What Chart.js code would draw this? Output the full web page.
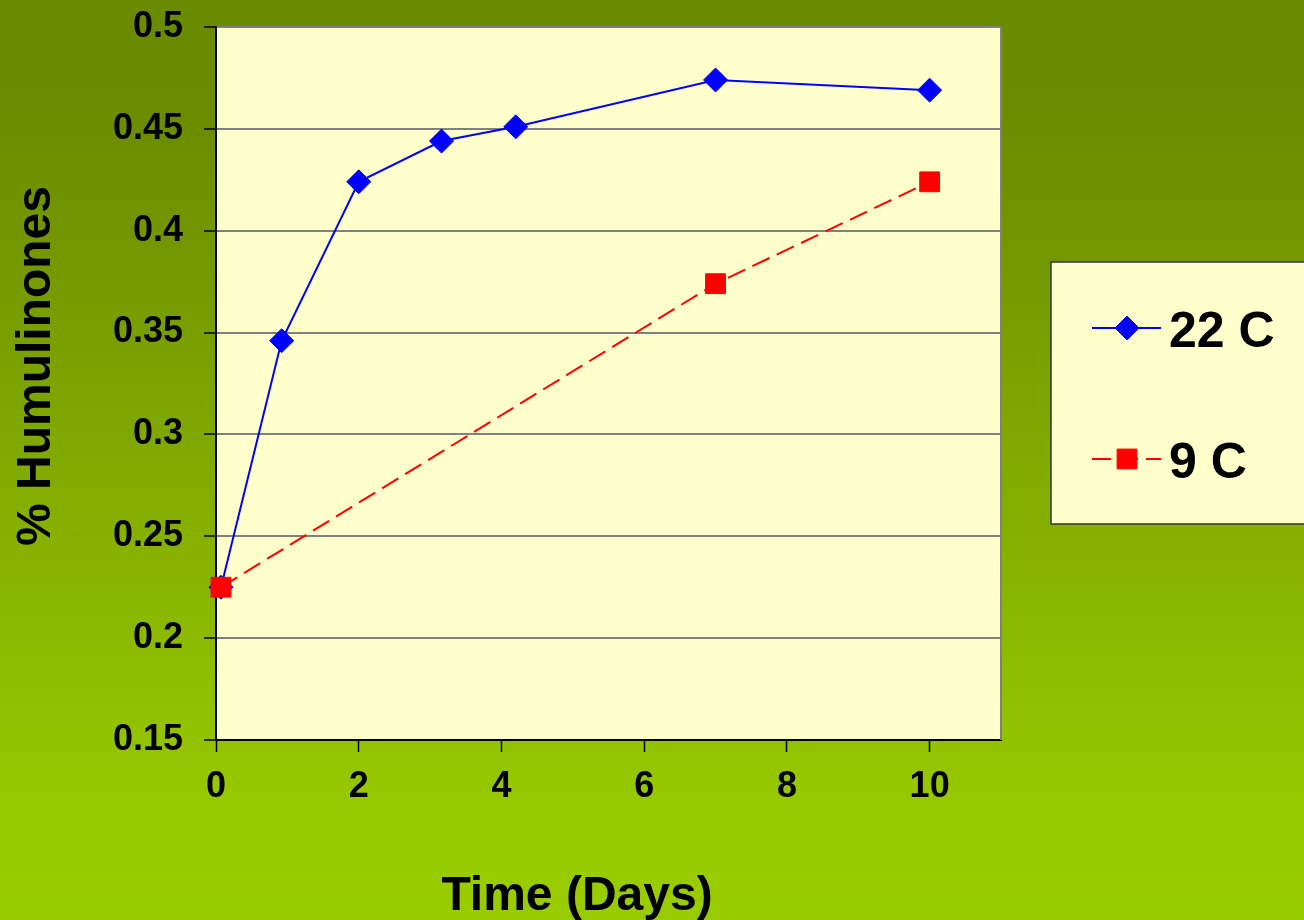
<!DOCTYPE html>
<html>
<head>
<meta charset="utf-8">
<script src="https://cdn.jsdelivr.net/npm/chart.js@4.4.1/dist/chart.umd.min.js"></script>
<style>
  html, body { margin: 0; padding: 0; background: #99cc00; }
  #wrap { width: 1304px; height: 920px; }
</style>
</head>
<body>
<div id="wrap"><canvas id="c" width="1304" height="920"></canvas></div>
<script>
// Humulinone content over storage time at two temperatures
const seriesNames = ['22 C', '9 C'];
const days22 = [0.07, 0.92, 2.0, 3.16, 4.2, 7.0, 10.0];
const humulinones22 = [0.225, 0.346, 0.424, 0.444, 0.451, 0.474, 0.469];
const days9 = [0.07, 7.0, 10.0];
const humulinones9 = [0.225, 0.374, 0.424];
const xTicks = [0, 2, 4, 6, 8, 10];
const yTicks = [0.15, 0.2, 0.25, 0.3, 0.35, 0.4, 0.45, 0.5];
const xTitle = 'Time (Days)';
const yTitle = '% Humulinones';

const FONT = 'Arial, "Liberation Sans", Helvetica, sans-serif';
const BLUE = '#0000ff';
const RED = '#ff0000';

const toPoints = (xs, ys) => xs.map((x, i) => ({ x, y: ys[i] }));

// slide background gradient plus the pale plot area
const backdrop = {
  id: 'backdrop',
  beforeDraw(chart) {
    const { ctx, width, height, chartArea: a } = chart;
    ctx.save();
    const g = ctx.createLinearGradient(0, 0, 0, height);
    g.addColorStop(0, '#6a8a00');
    g.addColorStop(0.12, '#6b8b00');
    g.addColorStop(0.88, '#97c900');
    g.addColorStop(1, '#99cc00');
    ctx.fillStyle = g;
    ctx.fillRect(0, 0, width, height);
    ctx.fillStyle = '#ffffcc';
    ctx.fillRect(a.left, a.top, a.right - a.left, a.bottom - a.top);
    ctx.restore();
  },
  beforeDatasetsDraw(chart) {
    const { ctx, chartArea: a } = chart;
    ctx.save();
    ctx.strokeStyle = '#808080';
    ctx.lineWidth = 2;
    ctx.beginPath();
    ctx.moveTo(a.right, a.top);
    ctx.lineTo(a.right, a.bottom);
    ctx.stroke();
    ctx.restore();
  }
};

function drawMarker(ctx, style, x, y, r, color) {
  ctx.fillStyle = color;
  ctx.strokeStyle = color;
  ctx.lineWidth = 1;
  ctx.setLineDash([]);
  ctx.beginPath();
  if (style === 'rectRot') {
    ctx.moveTo(x - r, y);
    ctx.lineTo(x, y - r);
    ctx.lineTo(x + r, y);
    ctx.lineTo(x, y + r);
    ctx.closePath();
  } else {
    const s = r * Math.SQRT1_2;
    ctx.rect(x - s, y - s, 2 * s, 2 * s);
  }
  ctx.fill();
  ctx.stroke();
}

// axis titles and the legend box on the right
const annotations = {
  id: 'annotations',
  afterDraw(chart) {
    const { ctx } = chart;
    ctx.save();
    ctx.fillStyle = '#000';
    ctx.font = 'bold 48px ' + FONT;
    ctx.textAlign = 'center';
    ctx.textBaseline = 'alphabetic';
    ctx.fillText(xTitle, 577, 910);
    ctx.save();
    ctx.translate(50, 366);
    ctx.rotate(-Math.PI / 2);
    ctx.fillText(yTitle, 0, 0);
    ctx.restore();

    // legend frame
    ctx.fillStyle = '#ffffcc';
    ctx.fillRect(1051, 262, 270, 262);
    ctx.strokeStyle = '#333333';
    ctx.lineWidth = 1.5;
    ctx.strokeRect(1051, 262, 270, 262);

    const rows = [
      { y: 328, base: 347 },
      { y: 459, base: 478 }
    ];
    chart.data.datasets.forEach((ds, i) => {
      const row = rows[i];
      ctx.strokeStyle = ds.borderColor;
      ctx.lineWidth = 2;
      ctx.setLineDash(ds.borderDash || []);
      ctx.beginPath();
      ctx.moveTo(1092, row.y);
      ctx.lineTo(1161, row.y);
      ctx.stroke();
      drawMarker(ctx, ds.pointStyle, 1127, row.y, ds.pointRadius, ds.backgroundColor);
      ctx.fillStyle = '#000';
      ctx.font = 'bold 50px ' + FONT;
      ctx.textAlign = 'left';
      ctx.fillText(ds.label, 1169, row.base);
    });
    ctx.restore();
  }
};

const tickFont = { family: FONT, size: 36, weight: 'bold' };

new Chart(document.getElementById('c'), {
  type: 'scatter',
  data: {
    datasets: [
      {
        label: seriesNames[0],
        data: toPoints(days22, humulinones22),
        showLine: true,
        borderColor: BLUE,
        backgroundColor: BLUE,
        borderWidth: 2,
        pointStyle: 'rectRot',
        pointRadius: 12,
        pointBorderWidth: 1,
        pointBorderColor: BLUE,
        pointBackgroundColor: BLUE,
        tension: 0,
        clip: false,
        order: 1
      },
      {
        label: seriesNames[1],
        data: toPoints(days9, humulinones9),
        showLine: true,
        borderColor: RED,
        backgroundColor: RED,
        borderWidth: 2,
        borderDash: [19, 8],
        pointStyle: 'rect',
        pointRadius: 14,
        pointBorderWidth: 1,
        pointBorderColor: RED,
        pointBackgroundColor: RED,
        tension: 0,
        clip: false,
        order: 0
      }
    ]
  },
  options: {
    responsive: false,
    animation: false,
    events: [],
    layout: { padding: { left: 0, right: 303, top: 27, bottom: 0 } },
    plugins: {
      legend: { display: false },
      tooltip: { enabled: false },
      title: { display: false }
    },
    scales: {
      x: {
        type: 'linear',
        min: 0,
        max: 11,
        afterBuildTicks(scale) { scale.ticks = xTicks.map(v => ({ value: v })); },
        afterFit(scale) {
          scale.height = 180;
          scale.paddingLeft = 0;
          scale.paddingRight = 0;
        },
        grid: {
          drawOnChartArea: false,
          drawTicks: true,
          tickLength: 12,
          tickColor: '#000',
          tickWidth: 1.5
        },
        border: { color: '#000', width: 2 },
        ticks: {
          font: tickFont,
          color: '#000',
          padding: 13,
          maxRotation: 0,
          autoSkip: false,
          callback: v => String(v)
        }
      },
      y: {
        type: 'linear',
        min: 0.15,
        max: 0.5,
        afterBuildTicks(scale) { scale.ticks = yTicks.map(v => ({ value: v })); },
        afterFit(scale) {
          scale.width = 216;
          scale.paddingTop = 0;
          scale.paddingBottom = 0;
        },
        grid: {
          color: ctx => (ctx.tick && ctx.tick.value < 0.151 ? '#000' : '#808080'),
          lineWidth: 2,
          drawTicks: true,
          tickLength: 12,
          tickColor: '#000',
          tickWidth: 1.5
        },
        border: { color: '#000', width: 2 },
        ticks: {
          font: tickFont,
          color: '#000',
          padding: 21,
          autoSkip: false,
          callback: v => String(+Number(v).toFixed(2))
        }
      }
    }
  },
  plugins: [backdrop, annotations]
});
</script>
</body>
</html>
